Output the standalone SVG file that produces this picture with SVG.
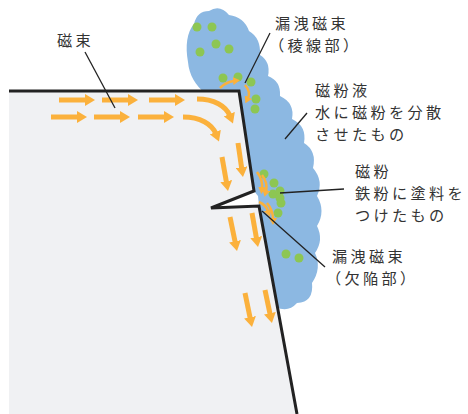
<svg xmlns="http://www.w3.org/2000/svg" width="468" height="414" viewBox="0 0 468 414">
  <style>
    .lbl { font-family: "Noto Sans CJK JP", "Noto Sans", sans-serif; font-size: 15.2px; fill: #333; letter-spacing: 3.3px; }
    .lead { stroke: #222; stroke-width: 1.3; fill: none; }
    .flux { stroke: #fbb13c; stroke-width: 5; fill: none; marker-end: url(#ah); }
    .leak { stroke: #fbb13c; stroke-width: 2.5; fill: none; marker-end: url(#ahs); }
    .dot { fill: #8dc653; }
  </style>
  <defs>
    <marker id="ah" markerUnits="userSpaceOnUse" viewBox="0 0 10 12" markerWidth="10" markerHeight="12" refX="2" refY="6" orient="auto">
      <path d="M0,0 L10,6 L0,12 z" fill="#fbb13c"/>
    </marker>
    <marker id="ahs" markerUnits="userSpaceOnUse" viewBox="0 0 7 8" markerWidth="7" markerHeight="8" refX="1" refY="4" orient="auto">
      <path d="M0,0 L7,4 L0,8 z" fill="#fbb13c"/>
    </marker>
  </defs>

  <!-- magnetic particle suspension on the slanted face -->
  <g id="suspension">
    <path fill="#8cb8e2" d="M205,93 C196,86 189,75 188,62 C185,46 187,32 194,24 Q197,11 209,11 Q220,4 229,15 Q244,17 249,31 Q261,38 260,55 Q271,62 268,76 Q281,81 280,96 Q295,103 292,119 Q307,126 304,143 Q317,151 313,168 Q324,181 317,196 Q326,211 317,226 Q324,240 315,253 Q322,268 312,283 Q314,302 297,303 Q288,313 276,307 L262,307 L248,200 L236,95 Z"/>
  </g>

  <!-- steel body with surface crack -->
  <g id="body">
    <path fill="#f0f1f3" d="M9,91 L239,91 L254,191 L211,208 L259,206 L297,414 L9,414 Z"/>
    <path fill="#ffffff" d="M254,191 L211,208 L259,206 L258,196 Z"/>
    <path fill="none" stroke="#222" stroke-width="3" stroke-linejoin="miter" d="M9,91 L239,91 L254,191 L211,208 L259,206 L297,414"/>
  </g>

  <!-- magnetic particles -->
  <g id="particles">
    <circle class="dot" cx="197" cy="27" r="4.5"/>
    <circle class="dot" cx="212" cy="27" r="4.5"/>
    <circle class="dot" cx="216" cy="44" r="4.5"/>
    <circle class="dot" cx="200" cy="52" r="4.5"/>
    <circle class="dot" cx="229" cy="49" r="4.5"/>
    <circle class="dot" cx="223" cy="78" r="4.5"/>
    <circle class="dot" cx="238" cy="77" r="4.5"/>
    <circle class="dot" cx="251" cy="82" r="4.5"/>
    <circle class="dot" cx="256" cy="99" r="4.5"/>
    <circle class="dot" cx="255" cy="109" r="4.5"/>
    <circle class="dot" cx="264" cy="174" r="4.5"/>
    <circle class="dot" cx="274" cy="183" r="4.5"/>
    <circle class="dot" cx="273" cy="194" r="4.5"/>
    <circle class="dot" cx="280" cy="191" r="4.5"/>
    <circle class="dot" cx="280" cy="198" r="4.5"/>
    <circle class="dot" cx="281" cy="203" r="4.5"/>
    <circle class="dot" cx="278" cy="213" r="4.5"/>
    <circle class="dot" cx="286" cy="254" r="4.5"/>
    <circle class="dot" cx="299" cy="258" r="4.5"/>
  </g>

  <!-- magnetic flux inside the body -->
  <g id="flux">
    <line class="flux" x1="59" y1="100" x2="87" y2="100"/>
    <line class="flux" x1="102" y1="100" x2="130" y2="100"/>
    <line class="flux" x1="149" y1="100" x2="177" y2="100"/>
    <path class="flux" d="M197,99 C214,99 226,106 230,116"/>
    <line class="flux" x1="51" y1="117" x2="79" y2="117"/>
    <line class="flux" x1="94" y1="117" x2="122" y2="117"/>
    <line class="flux" x1="138" y1="117" x2="166" y2="117"/>
    <path class="flux" d="M183,117 C200,117 212,124 216,134"/>
    <line class="flux" x1="238" y1="143" x2="241.8" y2="169.1"/>
    <line class="flux" x1="222" y1="157" x2="226.6" y2="183.1"/>
    <line class="flux" x1="252" y1="213" x2="256.6" y2="239.1"/>
    <line class="flux" x1="230" y1="217" x2="235.4" y2="243.2"/>
    <line class="flux" x1="265" y1="290" x2="270.3" y2="315.2"/>
    <line class="flux" x1="245" y1="293" x2="250.4" y2="319.2"/>
  </g>

  <!-- leakage flux at the edge and at the crack -->
  <g id="leakage">
    <path class="leak" d="M220,88 Q226,82 234,81"/>
    <path class="leak" d="M245,85 Q251,92 248,98"/>
    <path class="leak" d="M257,172 Q263,180 262,188"/>
    <path class="leak" d="M262,175 Q268,183 266,191"/>
    <path class="leak" d="M259,202 Q266,205 268,211"/>
    <path class="leak" d="M267,203 Q273,210 273,219"/>
  </g>

  <!-- leader lines -->
  <g id="connectors">
    <line class="lead" x1="85" y1="52" x2="115" y2="108"/>
    <line class="lead" x1="270" y1="33" x2="245" y2="83"/>
    <line class="lead" x1="307" y1="113" x2="285" y2="139"/>
    <line class="lead" x1="280" y1="193" x2="344" y2="189"/>
    <line class="lead" x1="262" y1="211" x2="325" y2="267"/>
  </g>

  <g id="label-flux">
    <text class="lbl" x="57" y="46">磁束</text>
  </g>
  <g id="label-edge-leak">
    <text class="lbl"><tspan x="275" y="28.5">漏洩磁束</tspan><tspan x="269" y="50.5">（稜線部）</tspan></text>
  </g>
  <g id="label-suspension">
    <text class="lbl"><tspan x="315" y="95.5">磁粉液</tspan><tspan x="315" y="117.5">水に磁粉を分散</tspan><tspan x="315" y="139.5">させたもの</tspan></text>
  </g>
  <g id="label-particles">
    <text class="lbl"><tspan x="355" y="176.5">磁粉</tspan><tspan x="355" y="198.5">鉄粉に塗料を</tspan><tspan x="355" y="220.5">つけたもの</tspan></text>
  </g>
  <g id="label-crack-leak">
    <text class="lbl"><tspan x="332" y="261.5">漏洩磁束</tspan><tspan x="326" y="283.5">（欠陥部）</tspan></text>
  </g>
</svg>
